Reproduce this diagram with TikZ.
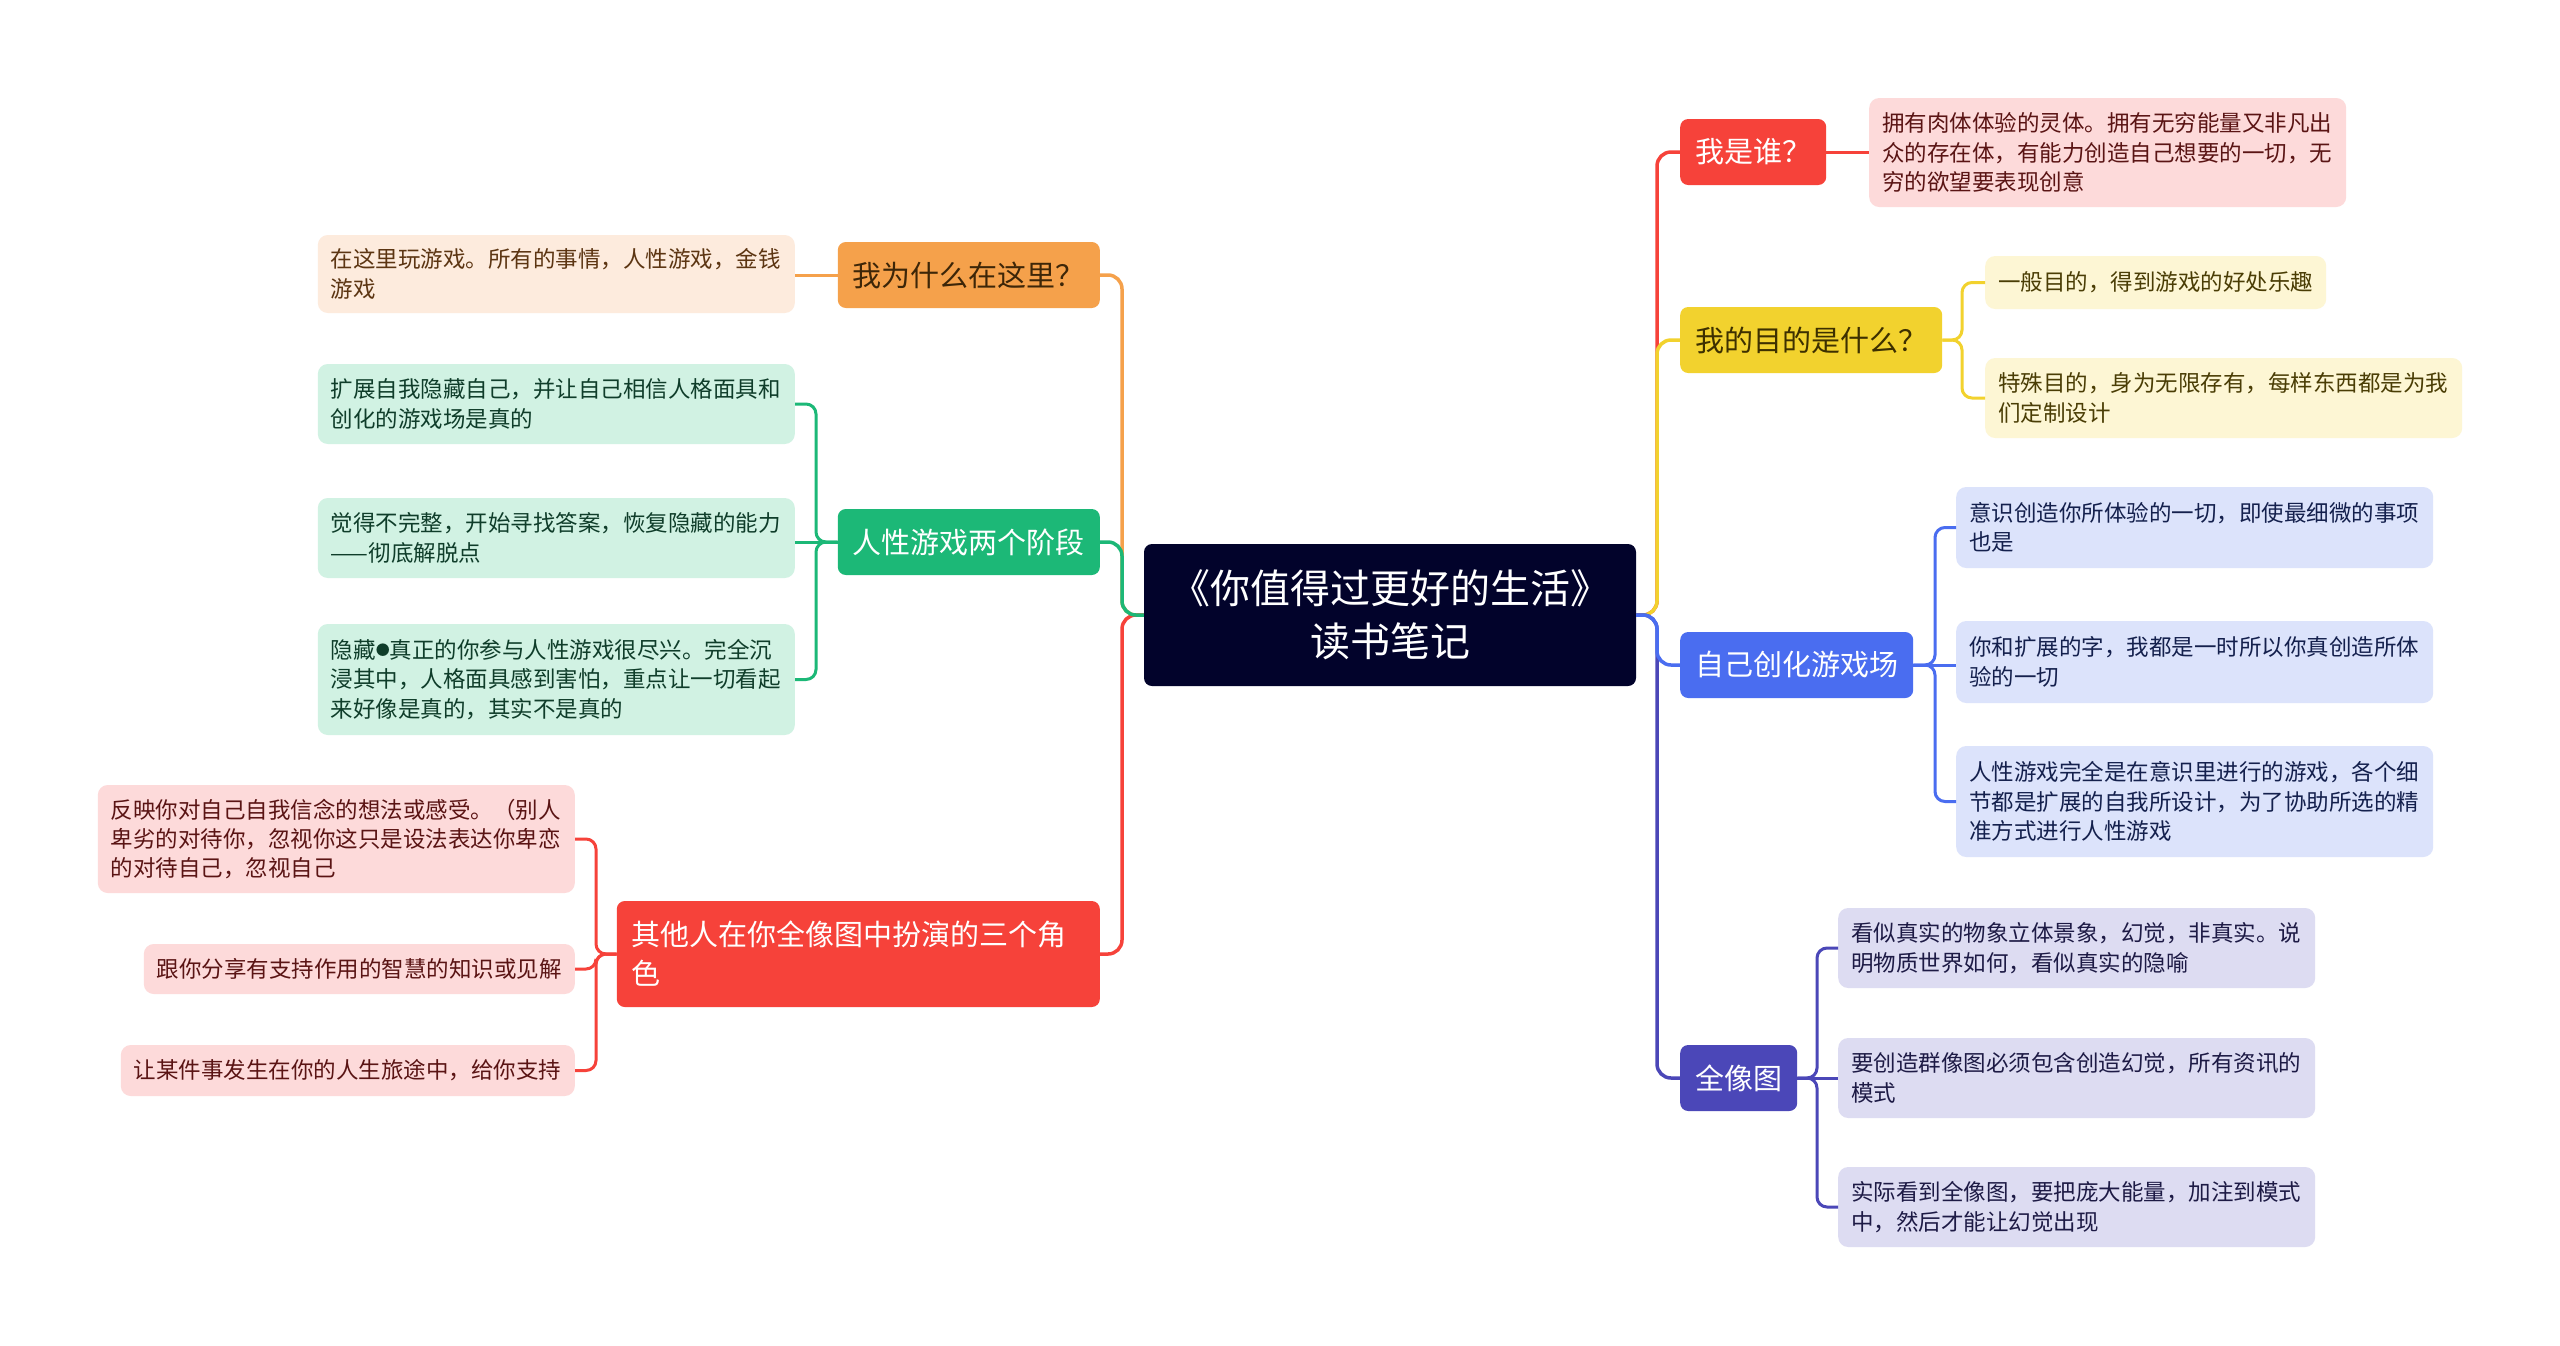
\documentclass[tikz,border=0pt]{standalone}
\usepackage{fontspec}
\setmainfont{Noto Sans CJK SC}
\definecolor{rootC}{HTML}{02032B}
\definecolor{orC}{HTML}{F5A14B}
\definecolor{orL}{HTML}{FDEBDD}
\definecolor{orT}{HTML}{5C3512}
\definecolor{orM}{HTML}{3D2608}
\definecolor{grC}{HTML}{1CB877}
\definecolor{grL}{HTML}{D1F2E3}
\definecolor{grT}{HTML}{0F3D2A}
\definecolor{rdC}{HTML}{F6423A}
\definecolor{rdL}{HTML}{FDDADA}
\definecolor{rdT}{HTML}{5A1414}
\definecolor{ylC}{HTML}{F2D22E}
\definecolor{ylL}{HTML}{FDF6D4}
\definecolor{ylT}{HTML}{4A3D05}
\definecolor{ylM}{HTML}{3D3000}
\definecolor{blC}{HTML}{4A6DF0}
\definecolor{blL}{HTML}{DCE3FB}
\definecolor{blT}{HTML}{14204D}
\definecolor{inC}{HTML}{4B47B8}
\definecolor{inL}{HTML}{DDDCF2}
\definecolor{inT}{HTML}{1D1A45}
\newcommand{\smallbul}{\raisebox{0.12em}{\fontsize{14}{14}\selectfont ●}}
\tikzset{
  rootbox/.style={fill=rootC, rounded corners=8pt, text=white, align=center,
    font=\fontsize{40}{53}\selectfont, minimum width=492pt, minimum height=142pt, inner sep=0pt},
  brbox/.style={rounded corners=8pt, font=\fontsize{29}{39}\selectfont,
    inner xsep=15pt, inner ysep=0pt, minimum height=66pt},
  leafbox/.style={rounded corners=10pt, font=\fontsize{22.5}{29.4}\selectfont,
    align=left, inner xsep=13pt, inner ysep=0pt},
  conn/.style={line width=3.5pt, rounded corners=14pt},
  lconn/.style={line width=3pt, rounded corners=10pt},
}
\begin{document}
\begin{tikzpicture}[x=1pt,y=-1pt]
\fill[white] (0,0) rectangle (2560,1345);
\path[use as bounding box] (0,0) rectangle (2560,1345);

% root
\node[rootbox] (root) at (1390,615) {《你值得过更好的生活》\\读书笔记};

% trunk coordinates
\coordinate (tl) at (1122,615);
\coordinate (tr) at (1657,615);
\coordinate (gT) at (816,542);
\coordinate (rT) at (596,954);
\coordinate (yT) at (1962,340);
\coordinate (bT) at (1935,665);
\coordinate (iT) at (1817,1078);

% left branches
\node[brbox, fill=orC, text=orM, anchor=east] (b1) at (1100,275) {我为什么在这里？};
\node[brbox, fill=grC, text=white, anchor=east] (b2) at (1100,542) {人性游戏两个阶段};
\node[brbox, fill=rdC, text=white, anchor=east, align=left, text width=453pt, minimum height=106pt] (b3) at (1100,954) {其他人在你全像图中扮演的三个角\\色};

% right branches
\node[brbox, fill=rdC, text=white, anchor=west] (c1) at (1680,152) {我是谁？};
\node[brbox, fill=ylC, text=ylM, anchor=west] (c2) at (1680,340) {我的目的是什么？};
\node[brbox, fill=blC, text=white, anchor=west] (c3) at (1680,665) {自己创化游戏场};
\node[brbox, fill=inC, text=white, anchor=west] (c4) at (1680,1078) {全像图};

% left leaves
\node[leafbox, fill=orL, text=orT, anchor=east, text width=451pt, minimum height=78pt] (l11) at (795,274) {在这里玩游戏。所有的事情，人性游戏，金钱\\游戏};
\node[leafbox, fill=grL, text=grT, anchor=east, text width=451pt, minimum height=80pt] (l21) at (795,404) {扩展自我隐藏自己，并让自己相信人格面具和\\创化的游戏场是真的};
\node[leafbox, fill=grL, text=grT, anchor=east, text width=451pt, minimum height=80pt] (l22) at (795,538) {觉得不完整，开始寻找答案，恢复隐藏的能力\\——彻底解脱点};
\node[leafbox, fill=grL, text=grT, anchor=east, text width=451pt, minimum height=111pt] (l23) at (795,679.5) {隐藏\smallbul 真正的你参与人性游戏很尽兴。完全沉\\浸其中，人格面具感到害怕，重点让一切看起\\来好像是真的，其实不是真的};
\node[leafbox, fill=rdL, text=rdT, anchor=east, text width=451pt, minimum height=108pt] (l31) at (575,839) {反映你对自己自我信念的想法或感受。（别人\\卑劣的对待你，忽视你这只是设法表达你卑恋\\的对待自己，忽视自己};
\node[leafbox, fill=rdL, text=rdT, anchor=east, text width=405pt, minimum height=50pt] (l32) at (575,969) {跟你分享有支持作用的智慧的知识或见解};
\node[leafbox, fill=rdL, text=rdT, anchor=east, text width=428pt, minimum height=51pt] (l33) at (575,1070.5) {让某件事发生在你的人生旅途中，给你支持};

% right leaves
\node[leafbox, fill=rdL, text=rdT, anchor=west, text width=451pt, minimum height=109pt] (m11) at (1869,152.5) {拥有肉体体验的灵体。拥有无穷能量又非凡出\\众的存在体，有能力创造自己想要的一切，无\\穷的欲望要表现创意};
\node[leafbox, fill=ylL, text=ylT, anchor=west, text width=315pt, minimum height=53pt] (m21) at (1985,282.5) {一般目的，得到游戏的好处乐趣};
\node[leafbox, fill=ylL, text=ylT, anchor=west, text width=451pt, minimum height=80pt] (m22) at (1985,398) {特殊目的，身为无限存有，每样东西都是为我\\们定制设计};
\node[leafbox, fill=blL, text=blT, anchor=west, text width=451pt, minimum height=81pt] (m31) at (1956,527.5) {意识创造你所体验的一切，即使最细微的事项\\也是};
\node[leafbox, fill=blL, text=blT, anchor=west, text width=451pt, minimum height=82pt] (m32) at (1956,662) {你和扩展的字，我都是一时所以你真创造所体\\验的一切};
\node[leafbox, fill=blL, text=blT, anchor=west, text width=451pt, minimum height=111pt] (m33) at (1956,801.5) {人性游戏完全是在意识里进行的游戏，各个细\\节都是扩展的自我所设计，为了协助所选的精\\准方式进行人性游戏};
\node[leafbox, fill=inL, text=inT, anchor=west, text width=451pt, minimum height=80pt] (m41) at (1838,948) {看似真实的物象立体景象，幻觉，非真实。说\\明物质世界如何，看似真实的隐喻};
\node[leafbox, fill=inL, text=inT, anchor=west, text width=451pt, minimum height=80pt] (m42) at (1838,1078) {要创造群像图必须包含创造幻觉，所有资讯的\\模式};
\node[leafbox, fill=inL, text=inT, anchor=west, text width=451pt, minimum height=80pt] (m43) at (1838,1207) {实际看到全像图，要把庞大能量，加注到模式\\中，然后才能让幻觉出现};

% main connectors (left)
\draw[conn, orC] (root.west) -- (tl) |- (b1.east);
\draw[conn, rdC] (root.west) -- (tl) |- (b3.east);
\draw[conn, grC] (root.west) -- (tl) |- (b2.east);
% main connectors (right)
\draw[conn, rdC] (root.east) -- (tr) |- (c1.west);
\draw[conn, ylC] (root.east) -- (tr) |- (c2.west);
\draw[conn, inC] (root.east) -- (tr) |- (c4.west);
\draw[conn, blC] (root.east) -- (tr) |- (c3.west);

% leaf connectors
\draw[lconn, orC] (b1.west) -- (l11.east |- b1.west);
\draw[lconn, grC] (b2.west) -- (gT) |- (l21.east);
\draw[lconn, grC] (b2.west) -- (l22.east |- b2.west);
\draw[lconn, grC] (b2.west) -- (gT) |- (l23.east);
\draw[lconn, rdC] (b3.west) -- (rT) |- (l31.east);
\draw[lconn, rdC] (b3.west) -- (rT) |- (l32.east);
\draw[lconn, rdC] (b3.west) -- (rT) |- (l33.east);

\draw[lconn, rdC] (c1.east) -- (m11.west |- c1.east);
\draw[lconn, ylC] (c2.east) -- (yT) |- (m21.west);
\draw[lconn, ylC] (c2.east) -- (yT) |- (m22.west);
\draw[lconn, blC] (c3.east) -- (bT) |- (m31.west);
\draw[lconn, blC] (c3.east) -- (m32.west |- c3.east);
\draw[lconn, blC] (c3.east) -- (bT) |- (m33.west);
\draw[lconn, inC] (c4.east) -- (iT) |- (m41.west);
\draw[lconn, inC] (c4.east) -- (m42.west);
\draw[lconn, inC] (c4.east) -- (iT) |- (m43.west);
\end{tikzpicture}
\end{document}
